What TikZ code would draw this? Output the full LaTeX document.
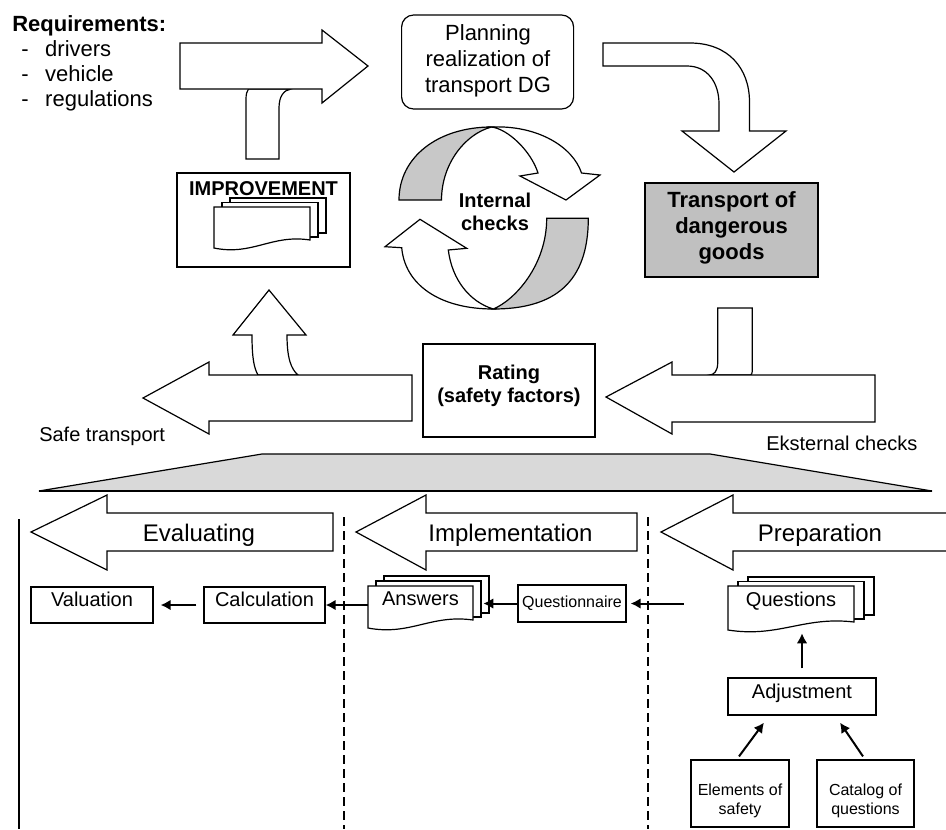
\documentclass[tikz,border=0pt]{standalone}
\usepackage{fontspec}
\setmainfont{Liberation Sans}
\usetikzlibrary{arrows.meta,calc,fit}
\definecolor{boxgray}{RGB}{192,192,192}
\definecolor{ringgray}{RGB}{200,200,200}
\definecolor{trapgray}{RGB}{217,217,217}
\tikzset{
  outl/.style={draw=black, line width=0.9pt, line join=miter},
  blockarrow/.style={outl, fill=white},
  framebox/.style={outl, fill=white, inner sep=0pt},
  txt/.style={inner sep=0pt, text=black},
  f24/.style={txt, font=\fontsize{18}{21}\selectfont},
  f22/.style={txt, font=\fontsize{16.5}{19.5}\selectfont},
  f22b/.style={txt, font=\fontsize{16.5}{19.5}\selectfont\bfseries},
  f20/.style={txt, font=\fontsize{15}{17.25}\selectfont},
  f20b/.style={txt, font=\fontsize{15}{17.25}\selectfont\bfseries},
  f16/.style={txt, font=\fontsize{12}{13.8}\selectfont},
  conn/.style={line width=1.5pt, -{Latex[length=7.5pt,width=8pt]}},
  lane/.style={line width=1.6pt},
  lanedash/.style={line width=1.6pt, dash pattern=on 6.5pt off 4pt},
}
% L T R BL dx dy
\newcommand\multidoc[6]{%
  \draw[outl, fill=white] ({#1+2*#5},{#2-2*#6}) rectangle ({#3+2*#5},{#4-15});
  \draw[outl, fill=white] ({#1+#5},{#2-#6}) rectangle ({#3+#5},{#4-11});
  \draw[outl, fill=white] (#1,#2) -- (#3,#2) -- (#3,{#4-8})
     .. controls ({#3-0.4*(#3-#1)},{#4-14}) and ({#1+0.4*(#3-#1)},{#4+8}) .. (#1,#4) -- cycle;
}
\begin{document}
\begin{tikzpicture}[x=0.75pt,y=-0.75pt]
\useasboundingbox (0,0) rectangle (946,829);

% ---------- top left: requirements ----------
\node[f22b, anchor=base west] (req) at (12,31) {Requirements:};
\node[f22, anchor=base west] (rq1) at (21,56) {\makebox[18pt][l]{-}drivers};
\node[f22, anchor=base west] (rq2) at (21,81) {\makebox[18pt][l]{-}vehicle};
\node[f22, anchor=base west] (rq3) at (21,106) {\makebox[18pt][l]{-}regulations};

% T-shaped arrow
\draw[blockarrow] (246,159) -- (246,99) .. controls (246,94) and (247,91) .. (248.5,89)
  -- (291,89) .. controls (284,90) and (279,96) .. (279,108) -- (279,159) -- cycle;
\draw[blockarrow] (180,43) -- (322,43) -- (322,30) -- (368,66) -- (322,103) -- (322,89) -- (180,89) -- cycle;

% boxes
\node[framebox, fit={(177,173)(350,267)}] (impr) {};
\node[framebox, rounded corners=9pt, fit={(401.6,15)(573.6,109)}] (plan) {};
\node[framebox, fill=boxgray, fit={(645,183)(818,277)}] (trans) {};
\node[framebox, fit={(423,344)(595,437)}] (rate) {};

% improvement documents
\multidoc{214}{207}{310}{248}{8}{4.5}
\node[f20b, anchor=base] (impT) at (263.5,195) {IMPROVEMENT};

% curved arrow to transport
\draw[blockarrow] (603,43) -- (690,43) .. controls (728,43) and (749.5,68) .. (749.5,102)
  -- (749.5,131) -- (786,131) -- (734,172) -- (682,131) -- (719,131) -- (719,104)
  .. controls (719,82) and (707,66) .. (687,66) -- (603,66) -- cycle;

% internal checks ring
\draw[outl, fill=ringgray] (399,200) .. controls (399,157) and (438,127) .. (491.5,127)
  .. controls (465,134) and (441.5,164) .. (441.5,200) -- cycle;
\draw[outl, fill=white] (491.5,127) .. controls (538,125) and (573,147) .. (581.5,173)
  -- (600,175) -- (566,200) -- (520,176) -- (538,173)
  .. controls (531,151) and (508,129) .. (491.5,127) -- cycle;
\draw[outl, fill=ringgray] (588.3,218.3) .. controls (588.3,282) and (555,309) .. (493.3,309)
  .. controls (515,300) and (546.7,265) .. (546.7,218.3) -- cycle;
\draw[outl, fill=white] (493.3,309) .. controls (440,309) and (405,285) .. (401.7,247.7)
  -- (385,246.7) -- (420,219.3) -- (466.7,248.3) -- (448.3,250)
  .. controls (452,280) and (470,302) .. (493.3,309) -- cycle;

% texts in top boxes
\node[f22, align=center] (planT) at (488,61) {Planning\\realization of\\transport DG};
\node[f22b, align=center] (trT) at (731.5,228) {Transport of\\dangerous\\goods};
\node[f20b, align=center] (intT) at (495,211.5) {Internal\\checks};
\node[f20b, align=center] (ratT) at (509,386) {Rating\\(safety factors)};

% up arrow + safe transport arrow
\draw[blockarrow] (258,375) .. controls (254,368) and (252,358) .. (252,335) -- (233,335)
  -- (269,290) -- (306,335) -- (287,335) .. controls (287,358) and (291,369) .. (298,375) -- cycle;
\draw[blockarrow] (412,375) -- (209,375) -- (209,362) -- (143,398) -- (209,434) -- (209,421) -- (412,421) -- cycle;
\node[f20, anchor=base west] (safeT) at (39,441) {Safe transport};

% external checks arrow
\draw[blockarrow] (709.3,375) .. controls (714,375) and (717.7,371) .. (717.7,363) -- (717.7,308)
  -- (752.3,308) -- (752.3,371) .. controls (752.3,373) and (751.5,375) .. (750.5,375) -- cycle;
\draw[blockarrow] (875,375) -- (672,375) -- (672,362) -- (606,397) -- (672,434) -- (672,422) -- (875,422) -- cycle;
\node[f20, anchor=base west] (extT) at (766,450) {Eksternal checks};

% trapezoid
\draw[outl, fill=trapgray] (39,491) -- (262,454) -- (710,454) -- (932,491) -- cycle;
\draw[line width=1.5pt] (39,491) -- (932,491);

% lanes
\draw[lane] (19,519) -- (19,829);
\draw[lanedash] (344,517) -- (344,829);
\draw[lanedash] (648,517) -- (648,829);

\draw[blockarrow] (333,513) -- (107,513) -- (107,495) -- (31,532) -- (107,570) -- (107,551) -- (333,551) -- cycle;
\draw[blockarrow] (637,513) -- (426,513) -- (426,495) -- (356,532) -- (426,570) -- (426,551) -- (637,551) -- cycle;
\draw[blockarrow] (952,513) -- (733,513) -- (733,495) -- (661,532) -- (733,570) -- (733,551) -- (952,551);
\node[f24, anchor=base] (evT) at (199,541) {Evaluating};
\node[f24, anchor=base] (imT) at (510.5,541) {Implementation};
\node[f24, anchor=base] (prT) at (820,541) {Preparation};

% process boxes
\node[framebox, fit={(31,587)(153,623)}] (val) {};
\node[framebox, fit={(204,587)(325,623)}] (calc) {};
\node[framebox, fit={(518,585)(626,622)}] (qnr) {};
\node[framebox, fit={(728,678)(876,715)}] (adj) {};
\node[framebox, fit={(691,760)(789,827)}] (elem) {};
\node[framebox, fit={(817,760)(914,827)}] (cat) {};

\multidoc{368}{586}{473}{628}{8}{5}
\multidoc{728}{586}{854}{630}{10}{4.5}
\node[inner sep=0pt, fit={(368,586)(473,628)}] (ans) {};
\node[inner sep=0pt, fit={(728,586)(854,630)}] (qs) {};

\node[f20, anchor=base] (valT) at (92,606) {Valuation};
\node[f20, anchor=base] (calcT) at (264.5,606) {Calculation};
\node[f16, anchor=base] (qnrT) at (572,607) {Questionnaire};
\node[f20, anchor=base] (adjT) at (802,698) {Adjustment};
\node[f20, anchor=base] (ansT) at (420.5,605) {Answers};
\node[f20, anchor=base] (qsT) at (791,606) {Questions};
\node[f16, align=center] (elT) at (740,801) {Elements of\\safety};
\node[f16, align=center] (catT) at (865.5,801) {Catalog of\\questions};

% connectors
\draw[conn, shorten <=5.25pt, shorten >=5.25pt] (calc.west) -- (val.east);
\draw[conn] (ans.west |- calc.east) -- (calc.east);
\draw[conn, shorten >=7.5pt] (qnr.west) -- (ans.east |- qnr.west);
\draw[conn, shorten <=33pt, shorten >=3pt] (qs.west |- qnr.east) -- (qnr.east);
\draw[conn, shorten <=6.75pt, shorten >=2.25pt] (adj.north) -- (adj.north |- qs.south);
\draw[conn] ($(elem.north)+(-1,-3)$) -- ($(adj.south)+(-38,7)$);
\draw[conn] ($(cat.north)+(-2.5,-3)$) -- ($(adj.south)+(38,7)$);
\end{tikzpicture}
\end{document}
